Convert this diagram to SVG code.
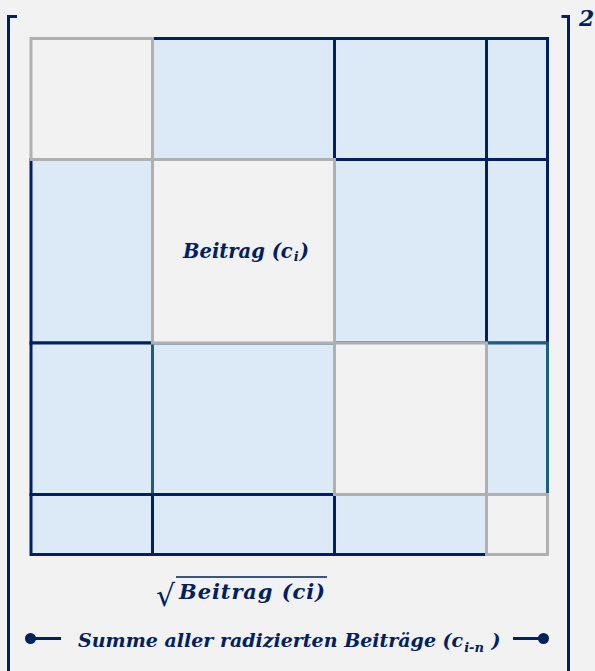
<svg xmlns="http://www.w3.org/2000/svg" width="595" height="671" viewBox="0 0 595 671">
<style>
.bg{fill:#f2f2f2}
.blue{fill:#dce9f6;stroke:#002060;stroke-width:3}
.teal{fill:#dce9f6;stroke:#1b5e80;stroke-width:3}
.gray{fill:#f2f2f2;stroke:#b0b0b0;stroke-width:3}
.brk{fill:none;stroke:#002060;stroke-width:3}
.t{font-family:"DejaVu Serif","Liberation Serif",serif;font-weight:bold;font-style:italic;fill:#002060}
</style>
<rect class="bg" x="0" y="0" width="595" height="671"/>
<g id="cells">
  <rect class="blue" x="152.5" y="38.5" width="182" height="121"/>
  <rect class="blue" x="334.5" y="38.5" width="152" height="121"/>
  <rect class="blue" x="486.5" y="38.5" width="61" height="121"/>
  <rect class="blue" x="31" y="159.5" width="121.5" height="183.5"/>
  <rect class="blue" x="334.5" y="159.5" width="152" height="183.5"/>
  <rect class="blue" x="486.5" y="159.5" width="61" height="183.5"/>
  <rect class="blue" x="31" y="343" width="121.5" height="151.5"/>
  <rect class="teal" x="152.5" y="343" width="182" height="151.5"/>
  <rect class="teal" x="486.5" y="343" width="61" height="151.5"/>
  <rect class="blue" x="31" y="494.5" width="121.5" height="60"/>
  <rect class="blue" x="152.5" y="494.5" width="182" height="60"/>
  <rect class="blue" x="334.5" y="494.5" width="152" height="60"/>
  <rect class="gray" x="31" y="38.5" width="121.5" height="121"/>
  <rect class="gray" x="152.5" y="159.5" width="182" height="183.5"/>
  <rect class="gray" x="334.5" y="343" width="152" height="151.5"/>
  <rect class="gray" x="486.5" y="494.5" width="61" height="60"/>
</g>
<g id="center-label">
  <text class="t" x="183" y="258" font-size="19.5">Beitrag (c<tspan font-size="13" dy="3" dx="1">i</tspan><tspan dy="-3" dx="1">)</tspan></text>
</g>
<g id="brackets">
  <path class="brk" d="M17,16.5 H8.5 V671"/>
  <path class="brk" d="M561.5,16.5 H568.5 V671"/>
  <text class="t" x="579" y="26" font-size="22">2</text>
</g>
<g id="sqrt">
  <text x="156" y="606" font-family="DejaVu Serif,serif" font-size="30" fill="#002060">√</text>
  <line x1="176" y1="577" x2="327" y2="577" stroke="#002060" stroke-width="1.5"/>
  <text class="t" x="179" y="599" font-size="21" textLength="146" lengthAdjust="spacing">Beitrag (ci)</text>
</g>
<g id="connectors">
  <line x1="30" y1="638.5" x2="61" y2="638.5" stroke="#002060" stroke-width="3"/>
  <circle cx="30.5" cy="638.5" r="5.5" fill="#002060"/>
  <line x1="513" y1="638.5" x2="543" y2="638.5" stroke="#002060" stroke-width="3"/>
  <circle cx="543.5" cy="638.5" r="5.5" fill="#002060"/>
</g>
<g id="bottom-label">
  <text class="t" x="78" y="646.5" font-size="19">Summe aller radizierten Beiträge (c<tspan font-size="13" dy="5" dx="1">i-n</tspan><tspan dy="-5" dx="1"> )</tspan></text>
</g>
</svg>
